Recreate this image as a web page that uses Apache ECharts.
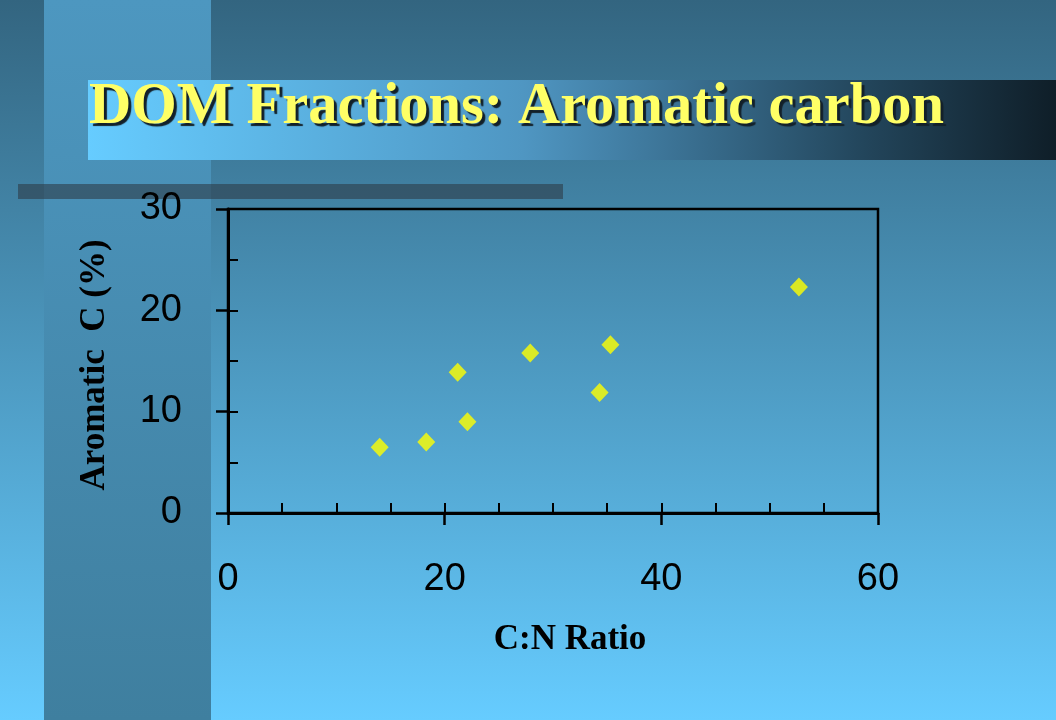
<!DOCTYPE html>
<html>
<head>
<meta charset="utf-8">
<script src="https://cdn.jsdelivr.net/npm/echarts@6/dist/echarts.min.js"></script>
<style>
html,body{margin:0;padding:0;}
#chart{width:1056px;height:720px;}
</style>
</head>
<body>
<div id="chart"></div>
<script>
// Data
const chartTitle = 'DOM Fractions: Aromatic carbon';
const xAxisTitle = 'C:N Ratio';
const yAxisTitle = 'Aromatic  C (%)';
const cnRatio   = [14.0, 18.3, 21.2, 22.1, 27.9, 34.3, 35.3, 52.7];
const aromaticC = [6.5, 7.0, 13.9, 9.0, 15.8, 11.9, 16.6, 22.3];
const xTicks = [0, 20, 40, 60];
const yTicks = [0, 10, 20, 30];

const points = cnRatio.map((x, i) => [x, aromaticC[i]]);

const chart = echarts.init(document.getElementById('chart'), null, {renderer: 'canvas'});

const sansFont = '"Liberation Sans", Arial, sans-serif';
const serifFont = '"Liberation Serif", "Times New Roman", serif';

chart.setOption({
  animation: false,
  backgroundColor: '#4a8fbb',
  graphic: {
    elements: [
      { type: 'rect', z: -20, silent: true,
        shape: {x: 0, y: 0, width: 1056, height: 720},
        style: {fill: new echarts.graphic.LinearGradient(0, 0, 0, 1, [
          {offset: 0, color: '#336580'}, {offset: 1, color: '#66ccff'}])}
      },
      { type: 'rect', z: -19, silent: true,
        shape: {x: 44, y: 0, width: 167, height: 720},
        style: {fill: new echarts.graphic.LinearGradient(0, 0, 0, 1, [
          {offset: 0, color: '#4d97c0'}, {offset: 1, color: '#3f7f9f'}])}
      },
      { type: 'rect', z: -18, silent: true,
        shape: {x: 88, y: 80, width: 968, height: 80},
        style: {fill: new echarts.graphic.LinearGradient(0, 0, 1, 0, [
          {offset: 0, color: '#66ccff'}, {offset: 0.45, color: '#4f96c2'},
          {offset: 0.8, color: '#23465c'}, {offset: 1, color: '#0f1e28'}])}
      },
      { type: 'rect', z: -17, silent: true,
        shape: {x: 18, y: 184, width: 545, height: 15},
        style: {fill: 'rgba(45,60,72,0.6)'}
      }
    ]
  },
  title: {
    text: chartTitle,
    left: 89,
    top: 78,
    padding: 0,
    textStyle: {
      fontFamily: serifFont,
      fontWeight: 'bold',
      fontSize: 58.5,
      color: '#ffff66',
      textShadowColor: '#122029',
      textShadowOffsetX: 3,
      textShadowOffsetY: 3,
      textShadowBlur: 1
    }
  },
  grid: {
    left: 228, top: 209, width: 650, height: 304,
    show: true, borderColor: '#000', borderWidth: 2.5, backgroundColor: 'transparent'
  },
  xAxis: [
    {
      type: 'value', min: 0, max: 60, interval: 20, position: 'bottom',
      axisLine: {show: true, onZero: false, lineStyle: {color: '#000', width: 3}},
      axisTick: {show: true, inside: false, length: 12, lineStyle: {color: '#000', width: 2.5}},
      axisLabel: {show: true, margin: 48, color: '#000', fontFamily: sansFont, fontSize: 38,
        customValues: xTicks},
      splitLine: {show: false},
      name: xAxisTitle, nameLocation: 'middle', nameGap: 109,
      nameTextStyle: {fontFamily: serifFont, fontWeight: 'bold', fontSize: 35, color: '#000',
        padding: [0, 0, 0, 34]}
    },
    {
      type: 'value', min: 0, max: 60, interval: 5, position: 'bottom',
      axisLine: {show: false, onZero: false},
      axisTick: {show: true, inside: true, length: 10, lineStyle: {color: '#000', width: 2}},
      axisLabel: {show: false},
      splitLine: {show: false}
    }
  ],
  yAxis: [
    {
      type: 'value', min: 0, max: 30, interval: 10, position: 'left',
      axisLine: {show: true, onZero: false, lineStyle: {color: '#000', width: 3}},
      axisTick: {show: true, inside: false, length: 12, lineStyle: {color: '#000', width: 2.5}},
      axisLabel: {show: true, margin: 46, color: '#000', fontFamily: sansFont, fontSize: 38,
        customValues: yTicks, padding: [6, 0, 0, 0]},
      splitLine: {show: false},
      name: yAxisTitle, nameLocation: 'middle', nameGap: 116, nameRotate: 90,
      nameTextStyle: {fontFamily: serifFont, fontWeight: 'bold', fontSize: 35, color: '#000',
        padding: [0, 8, 0, 0]}
    },
    {
      type: 'value', min: 0, max: 30, interval: 5, position: 'left',
      axisLine: {show: false, onZero: false},
      axisTick: {show: true, inside: true, length: 10, lineStyle: {color: '#000', width: 2}},
      axisLabel: {show: false},
      splitLine: {show: false}
    }
  ],
  series: [
    {
      type: 'scatter',
      xAxisIndex: 0, yAxisIndex: 0,
      symbol: 'diamond',
      symbolSize: [18, 19],
      itemStyle: {color: '#ffff00'},
      data: points
    }
  ]
});
</script>
</body>
</html>
